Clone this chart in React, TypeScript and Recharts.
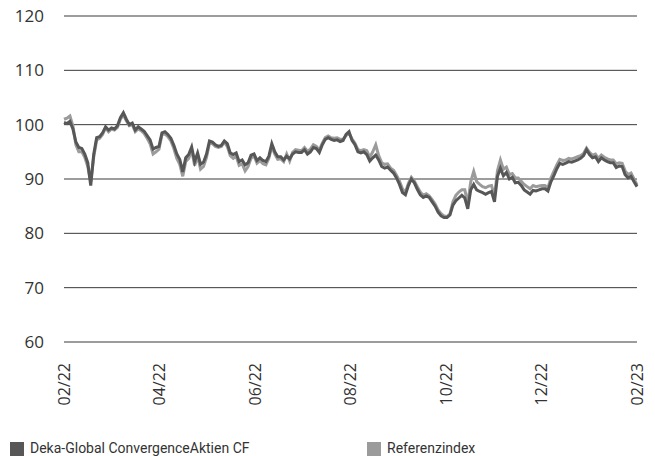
import React from 'react';
import { LineChart, Line, XAxis, YAxis, CartesianGrid } from 'recharts';

// Monatslabels der x-Achse (gleichmäßig verteilt)
const monthLabels = ['02/22', '04/22', '06/22', '08/22', '10/22', '12/22', '02/23'];

// Wertentwicklung Fonds (indexiert auf 100)
const fundValues = [
  100.4, 100.2, 100.6, 99.2, 96.8, 95.8, 95.6, 94.6, 93.0, 88.8,
  94.5, 97.6, 97.8, 98.5, 99.6, 99.0, 99.4, 99.2, 99.8, 101.3,
  102.2, 101.0, 100.0, 100.3, 99.0, 99.6, 99.2, 98.8, 98.0, 97.2,
  95.5, 95.8, 96.0, 98.5, 98.7, 98.2, 97.5, 96.2, 94.6, 93.6,
  91.3, 93.9, 94.5, 95.9, 93.2, 94.8, 92.7, 93.1, 94.6, 97.0,
  96.8, 96.3, 96.0, 96.2, 97.0, 96.5, 94.8, 94.5, 94.8, 93.2,
  93.5, 92.6, 93.0, 94.4, 94.6, 93.4, 93.9, 93.4, 93.2, 94.2,
  96.5, 95.0, 94.1, 94.1, 93.5, 94.2, 93.7, 94.6, 95.0, 94.9,
  94.9, 95.4, 94.6, 95.0, 95.8, 95.6, 94.9, 96.3, 97.3, 97.6,
  97.3, 97.1, 97.2, 96.9, 97.1, 98.2, 98.7, 97.1, 96.3, 95.0,
  94.8, 95.0, 94.5, 93.3, 93.9, 94.4, 93.5, 92.3, 92.0, 92.2,
  91.6, 91.1, 90.2, 89.0, 87.5, 87.1, 88.8, 90.0, 89.3, 88.1,
  87.1, 86.6, 86.9, 86.6, 85.8, 85.0, 83.9, 83.2, 82.9, 82.9,
  83.4, 85.2, 86.0, 86.5, 87.0, 86.5, 84.5, 88.0, 89.0, 88.0,
  87.7, 87.5, 87.2, 87.5, 87.7, 85.8, 90.5, 92.0, 90.6, 91.2,
  90.0, 90.3, 89.3, 89.4, 88.8, 88.0, 87.6, 87.2, 87.9, 87.8,
  88.0, 88.2, 88.2, 87.8, 89.5, 90.6, 91.9, 92.9, 92.7, 92.9,
  93.2, 93.1, 93.3, 93.5, 93.8, 94.3, 95.4, 94.5, 93.9, 94.1,
  93.2, 93.9, 93.5, 93.2, 93.0, 93.0, 92.1, 92.4, 92.3, 90.8,
  90.2, 90.5, 89.5, 88.6,
];

// Referenzindex
const refValues = [
  101.0, 101.2, 101.6, 99.8, 96.3, 95.0, 95.0, 94.0, 92.3, 89.5,
  94.0, 97.2, 97.5, 98.2, 99.4, 98.7, 99.2, 99.0, 99.5, 101.0,
  101.8, 100.7, 99.8, 100.0, 98.7, 99.2, 98.9, 98.4, 97.5, 96.5,
  94.6, 95.0, 95.5, 98.2, 98.3, 97.8, 97.0, 95.6, 93.8, 92.7,
  90.5, 93.2, 93.8, 95.3, 92.5, 94.2, 91.8, 92.3, 94.0, 96.6,
  96.5, 96.0, 95.8, 96.0, 96.8, 96.0, 94.3, 93.8, 94.2, 92.5,
  92.8, 91.5, 92.3, 93.8, 94.3, 92.9, 93.4, 92.8, 92.6, 93.8,
  96.0, 94.6, 93.6, 93.7, 93.2, 94.6, 93.3, 94.9, 95.4, 95.3,
  95.2, 95.8, 95.1, 95.5, 96.3, 96.0, 95.3, 96.6, 97.6, 97.9,
  97.6, 97.5, 97.6, 97.3, 97.3, 98.0, 98.4, 97.4, 96.6, 95.4,
  95.2, 95.4, 95.2, 94.0, 95.0, 96.3, 94.3, 93.0, 92.7, 92.8,
  92.0, 91.6, 90.7, 89.6, 88.2, 87.5, 89.2, 90.3, 89.6, 88.6,
  87.6, 87.0, 87.3, 86.9, 86.2, 85.4, 84.3, 83.6, 83.2, 83.1,
  83.6, 85.8, 87.0, 87.6, 88.0, 88.0, 85.5, 89.5, 91.4, 89.5,
  89.0, 88.6, 88.4, 88.7, 88.8, 86.8, 91.5, 93.5, 91.8, 92.2,
  90.8, 91.0, 90.2, 90.2, 89.6, 89.0, 88.6, 88.2, 88.8, 88.6,
  88.7, 88.8, 88.8, 88.4, 90.2, 91.4, 92.6, 93.6, 93.4, 93.5,
  93.8, 93.7, 93.9, 94.1, 94.3, 94.7, 95.7, 94.9, 94.4, 94.6,
  93.8, 94.4, 94.0, 93.7, 93.5, 93.5, 92.8, 93.0, 92.9, 91.5,
  90.8, 91.1, 90.0, 88.9,
];

const yTicks = [60, 70, 80, 90, 100, 110, 120];

const FUND_NAME = 'Deka-Global ConvergenceAktien CF';
const REF_NAME = 'Referenzindex';
const FUND_COLOR = '#575757';
const REF_COLOR = '#9b9b9b';
const FONT = '"Open Sans", sans-serif';

const data = fundValues.map((v, i) => ({ i, fund: v, ref: refValues[i] }));
const lastIdx = fundValues.length - 1;
const xTicks = monthLabels.map((_, k) => (k * lastIdx) / (monthLabels.length - 1));

const RotatedTick = (props: any) => {
  const { x, y, index } = props;
  const ty = y + 13;
  return (
    <text
      x={x}
      y={ty}
      transform={`rotate(-90, ${x}, ${ty})`}
      textAnchor="end"
      dy="0.35em"
      fill="#333"
      fontSize={16}
      fontFamily={FONT}
    >
      {monthLabels[index]}
    </text>
  );
};

const legendItem: React.CSSProperties = {
  position: 'absolute',
  top: 441,
  display: 'flex',
  alignItems: 'center',
  fontFamily: 'Roboto, sans-serif',
  fontSize: 14,
  lineHeight: '15px',
  color: '#333',
  whiteSpace: 'nowrap',
};

const App: React.FC = () => {
  return (
    <div style={{ position: 'absolute', left: 0, top: 0, width: 655, height: 456, background: '#fff', overflow: 'hidden' }}>
      <LineChart width={655} height={425} data={data} margin={{ top: 16, right: 18, left: 0, bottom: 0 }}>
        <CartesianGrid vertical={false} stroke="#3a3a3a" strokeWidth={1} />
        <XAxis
          dataKey="i"
          type="number"
          domain={[0, lastIdx]}
          ticks={xTicks}
          interval={0}
          axisLine={false}
          tickLine={false}
          height={83}
          tick={<RotatedTick />}
        />
        <YAxis
          domain={[60, 120]}
          ticks={yTicks}
          width={64}
          axisLine={false}
          tickLine={false}
          tickSize={0}
          tickMargin={20}
          tick={{ fill: '#333', fontSize: 17, fontFamily: FONT }}
        />
        <Line type="linear" dataKey="ref" stroke={REF_COLOR} strokeWidth={3} dot={false} isAnimationActive={false} />
        <Line type="linear" dataKey="fund" stroke={FUND_COLOR} strokeWidth={3} dot={false} isAnimationActive={false} />
      </LineChart>

      {/* Legende */}
      <div style={{ ...legendItem, left: 10 }}>
        <span style={{ width: 14, height: 14, background: FUND_COLOR, marginRight: 6, display: 'inline-block' }} />
        <span>{FUND_NAME}</span>
      </div>
      <div style={{ ...legendItem, left: 367 }}>
        <span style={{ width: 14, height: 14, background: REF_COLOR, marginRight: 6, display: 'inline-block' }} />
        <span>{REF_NAME}</span>
      </div>
    </div>
  );
};

export default App;
